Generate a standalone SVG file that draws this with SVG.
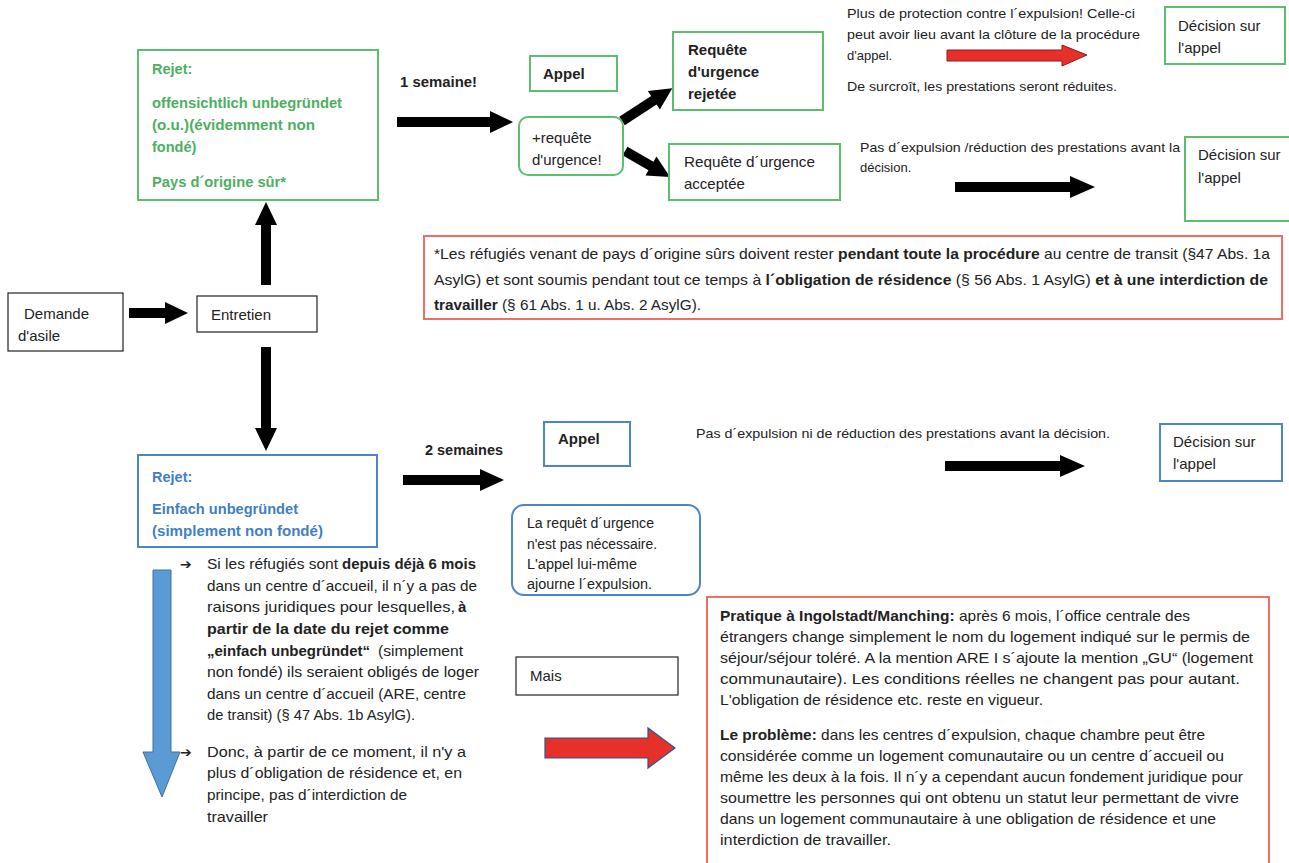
<svg xmlns="http://www.w3.org/2000/svg" width="1289" height="863" viewBox="0 0 1289 863">
<style>
text{font-family:"Liberation Sans",Arial,sans-serif;fill:#222;font-size:15px}
.b{font-weight:bold}
.s{font-size:13px}
.m{font-size:14px}
.ar{font-family:"DejaVu Sans",sans-serif;font-weight:bold;font-size:14px}
.g{fill:#4cb05f;font-weight:bold;font-size:14.5px}
.bl{fill:#3f7fc4;font-weight:bold;font-size:14.5px}
.gbox{fill:#fff;stroke:#5cbf6e;stroke-width:2}
.bbox{fill:#fff;stroke:#4a86c8;stroke-width:2}
.kbox{fill:#fff;stroke:#222;stroke-width:1.2}
.rbox{fill:#fff;stroke:#ef6f66;stroke-width:2}
.arr{fill:#000}
</style>
<rect width="1289" height="863" fill="#fff"/>

<g id="connectors">
<polygon class="arr" points="129,308 165,308 165,302 188,313 165,324 165,318 129,318"/>
<polygon class="arr" points="261,285 261,225 255,225 266,202 277,225 271,225 271,285"/>
<polygon class="arr" points="261,347 261,428 255,428 266,451 277,428 271,428 271,347"/>
<polygon class="arr" points="397,117 490,117 490,111 513,122 490,133 490,127 397,127"/>
<polygon class="arr" transform="translate(622,121) rotate(-33)" points="0,-5 38,-5 38,-11 60,0 38,11 38,5 0,5"/>
<polygon class="arr" transform="translate(625,151) rotate(30)" points="0,-5 30,-5 30,-11 52,0 30,11 30,5 0,5"/>
<polygon points="947,50 1062,50 1062,45 1087,55 1062,66 1062,61 947,61" fill="#e8302a" stroke="#8b1a1a" stroke-width="1"/>
<polygon class="arr" points="955,182 1070,182 1070,176 1095,187 1070,198 1070,192 955,192"/>
<polygon class="arr" points="403,475 480,475 480,469 504,480 480,491 480,485 403,485"/>
<polygon class="arr" points="945,461 1060,461 1060,455 1085,466 1060,477 1060,471 945,471"/>
<polygon points="545,738 648,738 648,728 675,748 648,768 648,758 545,758" fill="#e8302a" stroke="#2f528f" stroke-width="1.2"/>
<polygon points="153,570 171,570 171,752 180,752 162,797 143,752 153,752" fill="#5b9bd5" stroke="#41719c" stroke-width="1"/>
</g>

<g id="demande">
<rect class="kbox" x="8" y="293" width="115" height="58"/>
<text x="24" y="319">Demande</text>
<text x="18" y="341">d'asile</text>
</g>

<g id="entretien">
<rect class="kbox" x="197" y="296" width="120" height="36"/>
<text x="211" y="320">Entretien</text>
</g>

<g id="rejet-ou">
<rect class="gbox" x="138" y="50" width="240" height="150"/>
<text class="g" x="152" y="74">Rejet:</text>
<text class="g" x="152" y="108" textLength="190" lengthAdjust="spacingAndGlyphs">offensichtlich unbegründet</text>
<text class="g" x="152" y="130" textLength="163" lengthAdjust="spacingAndGlyphs">(o.u.)(évidemment non</text>
<text class="g" x="152" y="152">fondé)</text>
<text class="g" x="152" y="187" textLength="134" lengthAdjust="spacingAndGlyphs">Pays d´origine sûr*</text>
</g>

<g id="label-1semaine">
<text class="b" x="400" y="87" textLength="77" lengthAdjust="spacingAndGlyphs">1 semaine!</text>
</g>

<g id="appel1">
<rect class="gbox" x="530" y="56" width="87" height="35"/>
<text class="b" x="543" y="79" font-size="14.5">Appel</text>
</g>

<g id="requete-urgence">
<rect class="gbox" x="519" y="117" width="104" height="58" rx="9"/>
<text x="532" y="143">+requête</text>
<text x="532" y="165">d'urgence!</text>
</g>

<g id="rejetee">
<rect class="gbox" x="673" y="32" width="150" height="78"/>
<text class="b" x="688" y="55" font-size="14.5">Requête</text>
<text class="b" x="688" y="77" font-size="14.5">d'urgence</text>
<text class="b" x="688" y="99" font-size="14.5">rejetée</text>
</g>

<g id="acceptee">
<rect class="gbox" x="669" y="144" width="171" height="56"/>
<text x="684" y="167" textLength="131" lengthAdjust="spacingAndGlyphs">Requête d´urgence</text>
<text x="684" y="189">acceptée</text>
</g>

<g id="note-rejetee">
<text class="s" x="847" y="18" textLength="288" lengthAdjust="spacingAndGlyphs">Plus de protection contre l´expulsion!  Celle-ci</text>
<text class="s" x="847" y="39" textLength="293" lengthAdjust="spacingAndGlyphs">peut avoir lieu avant la clôture de la procédure</text>
<text class="s" x="847" y="60">d'appel.</text>
<text class="s" x="847" y="91" textLength="270" lengthAdjust="spacingAndGlyphs">De surcroît, les prestations seront réduites.</text>
</g>

<g id="decision1">
<rect class="gbox" x="1165" y="7" width="120" height="57"/>
<text x="1178" y="31">Décision sur</text>
<text x="1178" y="53">l'appel</text>
</g>

<g id="note-acceptee">
<text class="s" x="860" y="152" textLength="320" lengthAdjust="spacingAndGlyphs">Pas d´expulsion /réduction des prestations avant la</text>
<text class="s" x="860" y="172">décision.</text>
</g>

<g id="decision2">
<rect class="gbox" x="1185" y="137" width="110" height="84"/>
<text x="1198" y="160">Décision sur</text>
<text x="1198" y="183">l'appel</text>
</g>

<g id="note-pays-surs">
<rect class="rbox" x="424" y="236" width="858" height="83"/>
<text x="434" y="259" font-size="13.5" textLength="836" lengthAdjust="spacingAndGlyphs">*Les réfugiés venant de pays d´origine sûrs doivent rester  <tspan class="b">pendant toute la procédure</tspan> au centre de transit (§47 Abs. 1a</text>
<text x="434" y="285" font-size="13.5" textLength="834" lengthAdjust="spacingAndGlyphs">AsylG) et sont soumis pendant tout ce temps à <tspan class="b">l´obligation de résidence</tspan> (§ 56 Abs. 1 AsylG) <tspan class="b">et à une interdiction de</tspan></text>
<text x="434" y="310" font-size="13.5" textLength="267" lengthAdjust="spacingAndGlyphs"><tspan class="b">travailler</tspan> (§ 61 Abs. 1 u. Abs. 2 AsylG).</text>
</g>

<g id="rejet-eu">
<rect class="bbox" x="138" y="455" width="239" height="92"/>
<text class="bl" x="152" y="482">Rejet:</text>
<text class="bl" x="152" y="514" textLength="146" lengthAdjust="spacingAndGlyphs">Einfach unbegründet</text>
<text class="bl" x="152" y="536" textLength="171" lengthAdjust="spacingAndGlyphs">(simplement non fondé)</text>
</g>

<g id="label-2semaines">
<text class="b" x="425" y="455" textLength="78" lengthAdjust="spacingAndGlyphs">2 semaines</text>
</g>

<g id="appel2">
<rect class="bbox" x="544" y="422" width="86" height="44"/>
<text class="b" x="558" y="444" font-size="14.5">Appel</text>
</g>

<g id="note-appel2">
<rect class="bbox" x="512" y="505" width="188" height="90" rx="12"/>
<text class="m" x="527" y="528" textLength="127" lengthAdjust="spacingAndGlyphs">La requêt d´urgence</text>
<text class="m" x="527" y="549" textLength="130" lengthAdjust="spacingAndGlyphs">n'est pas nécessaire.</text>
<text class="m" x="527" y="569" textLength="110" lengthAdjust="spacingAndGlyphs">L'appel lui-même</text>
<text class="m" x="527" y="589" textLength="125" lengthAdjust="spacingAndGlyphs">ajourne l´expulsion.</text>
</g>

<g id="note-suspensif">
<text class="s" x="696" y="438" textLength="414" lengthAdjust="spacingAndGlyphs">Pas d´expulsion ni de réduction des prestations avant la décision.</text>
</g>

<g id="decision3">
<rect class="bbox" x="1160" y="424" width="122" height="57"/>
<text x="1173" y="447">Décision sur</text>
<text x="1173" y="469">l'appel</text>
</g>

<g id="texte-6mois">
<text class="ar" x="180" y="569">➔</text>
<text x="207" y="569" textLength="131" lengthAdjust="spacingAndGlyphs">Si les réfugiés sont</text>
<text class="b" x="342" y="569" textLength="134" lengthAdjust="spacingAndGlyphs">depuis déjà 6 mois</text>
<text x="207" y="591" textLength="270" lengthAdjust="spacingAndGlyphs">dans un centre d´accueil, il n´y a pas de</text>
<text x="207" y="612" textLength="248" lengthAdjust="spacingAndGlyphs">raisons juridiques pour lesquelles,</text>
<text class="b" x="458" y="612">à</text>
<text x="207" y="634" class="b" textLength="242" lengthAdjust="spacingAndGlyphs">partir de la date du rejet comme</text>
<text class="b" x="207" y="656" textLength="163" lengthAdjust="spacingAndGlyphs">„einfach unbegründet“</text>
<text x="378" y="656" textLength="85" lengthAdjust="spacingAndGlyphs">(simplement</text>
<text x="207" y="677" textLength="272" lengthAdjust="spacingAndGlyphs">non fondé) ils seraient obligés de loger</text>
<text x="207" y="699" textLength="259" lengthAdjust="spacingAndGlyphs">dans un centre d´accueil (ARE, centre</text>
<text x="207" y="720" textLength="208" lengthAdjust="spacingAndGlyphs">de transit) (§ 47 Abs. 1b AsylG).</text>
<text class="ar" x="180" y="757">➔</text>
<text x="207" y="757" textLength="259" lengthAdjust="spacingAndGlyphs">Donc, à partir de ce moment, il n'y a</text>
<text x="207" y="778" textLength="255" lengthAdjust="spacingAndGlyphs">plus d´obligation de résidence et, en</text>
<text x="207" y="800" textLength="200" lengthAdjust="spacingAndGlyphs">principe, pas d´interdiction de</text>
<text x="207" y="822" textLength="61" lengthAdjust="spacingAndGlyphs">travailler</text>
</g>

<g id="mais">
<rect class="kbox" x="516" y="657" width="162" height="38"/>
<text x="530" y="681">Mais</text>
</g>

<g id="note-ingolstadt">
<rect class="rbox" x="707" y="597" width="562" height="275"/>
<text x="720" y="621" font-size="14" textLength="470" lengthAdjust="spacingAndGlyphs"><tspan class="b">Pratique à Ingolstadt/Manching:</tspan> après 6 mois,  l´office centrale des</text>
<text x="720" y="642" font-size="14" textLength="530" lengthAdjust="spacingAndGlyphs">étrangers  change simplement  le nom du logement  indiqué sur le permis de</text>
<text x="720" y="663" font-size="14" textLength="533" lengthAdjust="spacingAndGlyphs">séjour/séjour toléré. A la mention ARE I s´ajoute la mention  „GU“ (logement</text>
<text x="720" y="684" font-size="14" textLength="520" lengthAdjust="spacingAndGlyphs">communautaire). Les conditions réelles ne changent pas pour autant.</text>
<text x="720" y="705" font-size="14" textLength="323" lengthAdjust="spacingAndGlyphs">L'obligation de résidence etc. reste en vigueur.</text>
<text x="720" y="740" font-size="14" textLength="485" lengthAdjust="spacingAndGlyphs"><tspan class="b">Le problème:</tspan> dans les centres d´expulsion, chaque chambre peut être</text>
<text x="720" y="761" font-size="14" textLength="504" lengthAdjust="spacingAndGlyphs">considérée comme un logement comunautaire ou un centre d´accueil ou</text>
<text x="720" y="782" font-size="14" textLength="523" lengthAdjust="spacingAndGlyphs">même les deux à la fois. Il n´y a cependant aucun fondement juridique pour</text>
<text x="720" y="803" font-size="14" textLength="519" lengthAdjust="spacingAndGlyphs">soumettre les personnes qui ont obtenu un statut leur permettant de vivre</text>
<text x="720" y="824" font-size="14" textLength="496" lengthAdjust="spacingAndGlyphs">dans un logement communautaire à une obligation de résidence et une</text>
<text x="720" y="845" font-size="14" textLength="171" lengthAdjust="spacingAndGlyphs">interdiction de travailler.</text>
</g>
</svg>
